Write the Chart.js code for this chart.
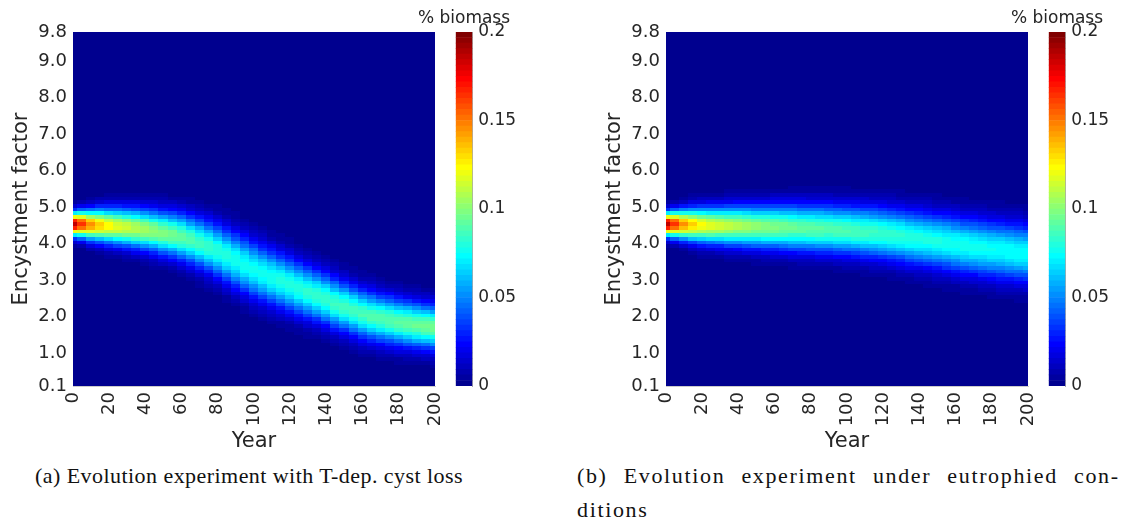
<!DOCTYPE html>
<html>
<head>
<meta charset="utf-8">
<script src="https://cdn.jsdelivr.net/npm/chart.js@4.4.1/dist/chart.umd.min.js"></script>
<style>
  body { margin: 0; background: #fff; }
  #wrap { position: relative; width: 1134px; height: 527px; overflow: hidden; }
  canvas { position: absolute; }
  .cap { position: absolute; font-family: "Liberation Serif", serif; font-size: 22px; color: #111; white-space: nowrap; }
</style>
</head>
<body>
<div id="wrap">
  <canvas id="heatA" width="440" height="460" style="left:0px;top:0px"></canvas>
  <canvas id="barA" width="120" height="400" style="left:404px;top:0px"></canvas>
  <canvas id="heatB" width="440" height="460" style="left:593px;top:0px"></canvas>
  <canvas id="barB" width="120" height="400" style="left:997px;top:0px"></canvas>
  <div class="cap" id="capA" style="left:35px;top:463px">(a) Evolution experiment with T-dep. cyst loss</div>
  <div class="cap" id="capB" style="left:577px;top:463px">(b) Evolution experiment under eutrophied con-</div>
  <div class="cap" id="capB2" style="left:577px;top:497px">ditions</div>
</div>
<script>
// years sampled across the run
const years = [0,5,10,15,20,25,30,35,40,45,50,55,60,65,70,75,80,85,90,95,100,
               105,110,115,120,125,130,135,140,145,150,155,160,165,170,175,180,185,190,195,200];

// (a) T-dep. cyst loss: centre of the band and its peak % biomass
const meanA = [4.55,4.55,4.53,4.52,4.50,4.48,4.46,4.43,4.40,4.36,4.31,4.26,4.20,4.12,4.03,3.93,3.82,3.69,3.56,3.43,3.30,
               3.19,3.09,2.99,2.89,2.79,2.69,2.59,2.49,2.38,2.28,2.18,2.09,2.02,1.96,1.91,1.86,1.82,1.78,1.75,1.72];
const peakA = [0.185,0.165,0.145,0.132,0.124,0.118,0.113,0.109,0.105,0.102,0.099,0.096,0.093,0.090,0.087,0.084,0.081,0.079,0.078,0.077,0.077,
               0.077,0.078,0.079,0.080,0.081,0.082,0.083,0.084,0.085,0.086,0.087,0.088,0.089,0.090,0.091,0.092,0.093,0.094,0.095,0.096];

// (b) eutrophied conditions
const meanB = [4.55,4.55,4.54,4.53,4.52,4.51,4.51,4.50,4.50,4.49,4.48,4.47,4.47,4.46,4.45,4.44,4.43,4.42,4.41,4.39,4.38,
               4.36,4.34,4.32,4.29,4.26,4.23,4.19,4.16,4.12,4.08,4.04,4.00,3.96,3.93,3.89,3.86,3.83,3.80,3.77,3.74];
const peakB = [0.185,0.165,0.145,0.132,0.124,0.119,0.115,0.111,0.108,0.105,0.102,0.100,0.098,0.096,0.094,0.093,0.092,0.091,0.090,0.089,0.088,
               0.087,0.086,0.085,0.084,0.083,0.082,0.081,0.080,0.079,0.079,0.078,0.078,0.077,0.077,0.076,0.076,0.075,0.075,0.075,0.075];

const xTicks = [0,20,40,60,80,100,120,140,160,180,200];
const yTicks = [0.1,1,2,3,4,5,6,7,8,9,9.8];
const cbTicks = [0,0.05,0.1,0.15,0.2];
const cbLabels = ['0','0.05','0.1','0.15','0.2'];
const cbTitle = '% biomass';
const cMax = 0.2;

const txt = '#262626';
const fam = 'DejaVu Sans';

// MATLAB jet(64)
function jetMap(m) {
  const n = Math.ceil(m / 4);
  const u = [];
  for (let i = 1; i <= n; i++) u.push(i / n);
  for (let i = 1; i < n; i++) u.push(1);
  for (let i = n; i >= 1; i--) u.push(i / n);
  const g0 = Math.ceil(n / 2) - (m % 4 === 1 ? 1 : 0);
  const map = Array.from({length: m}, () => [0, 0, 0]);
  u.forEach((val, j) => {
    const g = g0 + j + 1, r = g + n, b = g - n;
    if (r >= 1 && r <= m) map[r - 1][0] = val;
    if (g >= 1 && g <= m) map[g - 1][1] = val;
    if (b >= 1 && b <= m) map[b - 1][2] = val;
  });
  return map.map(c => `rgb(${Math.round(c[0]*255)},${Math.round(c[1]*255)},${Math.round(c[2]*255)})`);
}
const jet = jetMap(64);
function colorFor(v) {
  let i = Math.floor(v / cMax * 64);
  if (i < 0) i = 0;
  if (i > 63) i = 63;
  return jet[i];
}

// one cell per 5-year column and 0.1 bin of encystment factor
function buildCells(means, peaks) {
  const cells = [];
  years.forEach((yr, i) => {
    const sd = 0.1 / (peaks[i] * Math.sqrt(2 * Math.PI));
    for (let k = 0; k < 97; k++) {
      const lo = 0.1 + 0.1 * k, c = lo + 0.05;
      const v = peaks[i] * Math.exp(-((c - means[i]) ** 2) / (2 * sd * sd));
      cells.push({x: yr, y: c, v: v, x0: Math.max(0, yr - 2.5), x1: Math.min(200, yr + 2.5), y0: lo, y1: lo + 0.1});
    }
  });
  return cells;
}

const heatPlugin = {
  id: 'heat',
  beforeDatasetsDraw(chart) {
    const {ctx, chartArea} = chart;
    const xs = chart.scales.x, ys = chart.scales.y;
    ctx.save();
    ctx.beginPath();
    ctx.rect(chartArea.left, chartArea.top, chartArea.width, chartArea.height);
    ctx.clip();
    chart.data.datasets[0].data.forEach(c => {
      const px0 = Math.floor(xs.getPixelForValue(c.x0));
      const px1 = Math.ceil(xs.getPixelForValue(c.x1));
      const py0 = Math.floor(ys.getPixelForValue(c.y1));
      const py1 = Math.ceil(ys.getPixelForValue(c.y0));
      ctx.fillStyle = colorFor(c.v);
      ctx.fillRect(px0, py0, px1 - px0, py1 - py0);
    });
    ctx.restore();
  }
};

// label above the colour bar
const cbTitlePlugin = {
  id: 'cbTitle',
  afterDraw(chart) {
    const {ctx, chartArea} = chart;
    ctx.save();
    ctx.font = `17px "${fam}"`;
    ctx.fillStyle = txt;
    ctx.textAlign = 'center';
    ctx.textBaseline = 'alphabetic';
    ctx.fillText(cbTitle, (chartArea.left + chartArea.right) / 2, chartArea.top - 9);
    ctx.restore();
  }
};

function makeHeat(id, means, peaks) {
  new Chart(document.getElementById(id), {
    type: 'scatter',
    data: { datasets: [{ data: buildCells(means, peaks), pointRadius: 0 }] },
    plugins: [heatPlugin],
    options: {
      animation: false, responsive: false, devicePixelRatio: 1,
      layout: { padding: { top: 32, right: 5, left: 0, bottom: 0 } },
      plugins: { legend: { display: false }, tooltip: { enabled: false } },
      scales: {
        x: {
          type: 'linear', min: 0, max: 200,
          afterBuildTicks: s => { s.ticks = xTicks.map(v => ({value: v})); },
          afterFit: s => { s.height = 74; s.paddingLeft = 0; s.paddingRight = 0; },
          grid: { display: false, drawTicks: false },
          border: { display: true, color: '#cccccc' },
          ticks: { minRotation: 90, maxRotation: 90, padding: 6, color: txt, font: { family: fam, size: 18 } },
          title: { display: true, text: 'Year', color: txt, font: { family: fam, size: 21 }, padding: { top: 0, bottom: 6 } }
        },
        y: {
          type: 'linear', min: 0.1, max: 9.8,
          afterBuildTicks: s => { s.ticks = yTicks.map(v => ({value: v})); },
          afterFit: s => { s.width = 73; },
          grid: { display: false, drawTicks: false },
          border: { display: true, color: '#cccccc' },
          ticks: { padding: 6, color: txt, font: { family: fam, size: 18 }, callback: v => v.toFixed(1) },
          title: { display: true, text: 'Encystment factor', color: txt, font: { family: fam, size: 21 }, padding: { top: 9, bottom: 0 } }
        }
      }
    }
  });
}

function makeBar(id) {
  const step = cMax / 64;
  new Chart(document.getElementById(id), {
    type: 'bar',
    data: {
      labels: [''],
      datasets: jet.map((col, i) => ({
        data: [[i * step, (i + 1) * step]], backgroundColor: col, borderWidth: 0,
        grouped: false, barPercentage: 1, categoryPercentage: 1
      }))
    },
    plugins: [cbTitlePlugin],
    options: {
      animation: false, responsive: false, devicePixelRatio: 1,
      layout: { padding: { top: 32, left: 51.7, right: 0, bottom: 14 } },
      plugins: { legend: { display: false }, tooltip: { enabled: false } },
      scales: {
        x: { display: false },
        y: {
          position: 'right', min: 0, max: cMax,
          afterBuildTicks: s => { s.ticks = cbTicks.map(v => ({value: v})); },
          afterFit: s => { s.width = 51.7; s.paddingTop = 0; s.paddingBottom = 0; },
          grid: { display: false, drawTicks: false },
          border: { display: true, color: '#aaaaaa' },
          ticks: { padding: 6, color: txt, font: { family: fam, size: 17 }, callback: (v, i) => cbLabels[i] }
        }
      }
    }
  });
}

makeHeat('heatA', meanA, peakA);
makeBar('barA');
makeHeat('heatB', meanB, peakB);
makeBar('barB');

// fit caption lines: (a) at its natural width, (b) justified to the panel
const mctx = document.createElement('canvas').getContext('2d');
mctx.font = '22px "Liberation Serif"';
const capA = document.getElementById('capA'), capB = document.getElementById('capB');
const sA = capA.textContent, sB = capB.textContent;
const lsA = Math.max(0, (428 - mctx.measureText(sA).width) / (sA.length - 1));
capA.style.letterSpacing = lsA + 'px';
const lsB = lsA + 1.2;
capB.style.letterSpacing = lsB + 'px';
document.getElementById('capB2').style.letterSpacing = lsB + 'px';
const wB = mctx.measureText(sB).width + lsB * (sB.length - 1);
capB.style.wordSpacing = Math.max(0, (541 - wB) / (sB.split(' ').length - 1)) + 'px';
</script>
</body>
</html>
